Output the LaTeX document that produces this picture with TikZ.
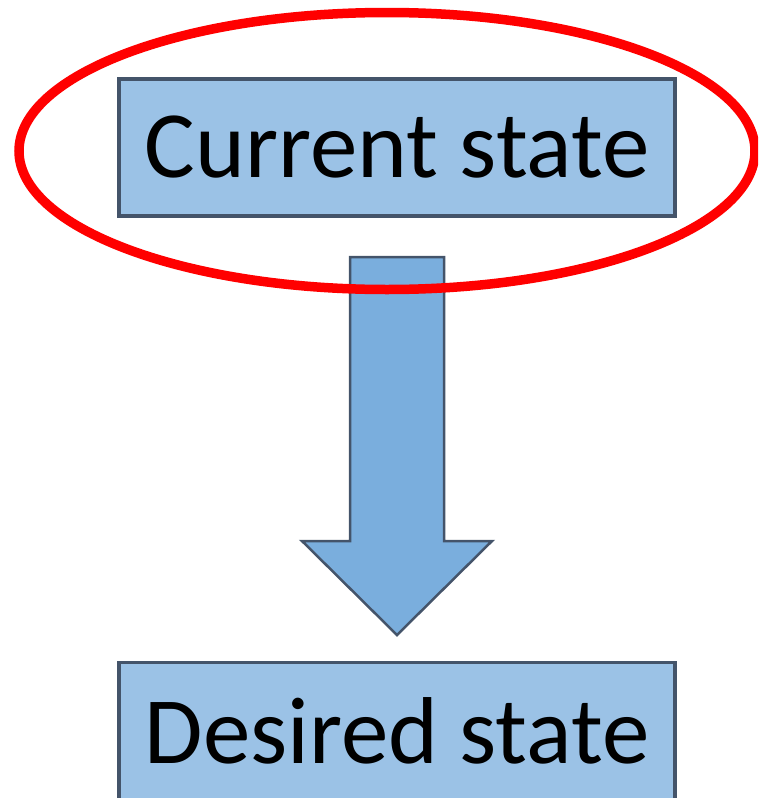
\documentclass[tikz,border=0pt]{standalone}
\usepackage{fontspec}
\setmainfont{Carlito}
\usepackage{tikz}
\usetikzlibrary{shapes.geometric}

\definecolor{boxfill}{HTML}{9BC2E6}
\definecolor{arrowfill}{HTML}{7AAEDD}
\definecolor{edgeblue}{HTML}{44546A}

\begin{document}
\begin{tikzpicture}[x=1pt,y=-1pt,
	statebox/.style={draw=edgeblue,line width=3.5pt,fill=boxfill,
		minimum width=556pt,minimum height=137pt,inner sep=0pt,
		font=\fontsize{95}{100}\selectfont},
	blockarrow/.style={draw=edgeblue,line width=2.5pt,fill=arrowfill,line join=miter}]
	
	\useasboundingbox (0,0) rectangle (758,798);
	\begin{scope}
	\clip (0,0) rectangle (758,798);
	
	\node[statebox] (Current) at (397,147.5) {Current state};
	\node[statebox] (Desired) at (397,731) {Desired state};
	
	% block arrow
	\draw[blockarrow] (350,257) -- (444,257) -- (444,541) -- (492,541)
		-- (397,635) -- (302,541) -- (350,541) -- cycle;
	
	\node[draw=red,line width=9.5pt,ellipse,minimum width=736pt,minimum height=277pt] (Mark) at (387,151) {};
	\end{scope}
	
\end{tikzpicture}
\end{document}
